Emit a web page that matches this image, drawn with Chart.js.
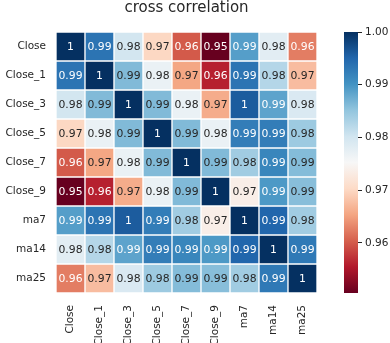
<!DOCTYPE html>
<html><head><meta charset="utf-8">
<script src="https://cdn.jsdelivr.net/npm/chart.js@4"></script>
<style>
html,body{margin:0;padding:0;background:#fff;}
#wrap{position:relative;width:390px;height:343px;overflow:hidden;background:#fff;}
#main{position:absolute;left:0;top:0;}
#cbar{position:absolute;left:330px;top:0;}
</style></head><body>
<div id="wrap"><canvas id="main" width="390" height="343"></canvas><canvas id="cbar" width="60" height="343"></canvas></div>
<script>
// ---- data ----
const labels = ['Close','Close_1','Close_3','Close_5','Close_7','Close_9','ma7','ma14','ma25'];
const rowClose  = [1.0000, 0.9935, 0.9800, 0.9700, 0.9600, 0.9505, 0.9890, 0.9780, 0.9625];
const rowClose1 = [0.9935, 1.0000, 0.9862, 0.9770, 0.9655, 0.9560, 0.9935, 0.9825, 0.9675];
const rowClose3 = [0.9800, 0.9862, 1.0000, 0.9862, 0.9770, 0.9660, 0.9960, 0.9885, 0.9790];
const rowClose5 = [0.9700, 0.9770, 0.9862, 1.0000, 0.9862, 0.9770, 0.9925, 0.9925, 0.9843];
const rowClose7 = [0.9600, 0.9655, 0.9770, 0.9862, 1.0000, 0.9862, 0.9840, 0.9915, 0.9860];
const rowClose9 = [0.9505, 0.9560, 0.9660, 0.9770, 0.9862, 1.0000, 0.9737, 0.9895, 0.9858];
const rowMa7    = [0.9890, 0.9935, 0.9960, 0.9925, 0.9840, 0.9737, 1.0000, 0.9950, 0.9840];
const rowMa14   = [0.9780, 0.9825, 0.9885, 0.9925, 0.9915, 0.9895, 0.9950, 1.0000, 0.9930];
const rowMa25   = [0.9625, 0.9675, 0.9790, 0.9843, 0.9860, 0.9858, 0.9840, 0.9930, 1.0000];
const matrix = [rowClose, rowClose1, rowClose3, rowClose5, rowClose7, rowClose9, rowMa7, rowMa14, rowMa25];
const cbarTicks = [0.96, 0.97, 0.98, 0.99, 1.00];
const titleText = 'cross correlation';

// ---- colormap (RdBu) ----
const RdBu = ['#67001f','#b2182b','#d6604d','#f4a582','#fddbc7','#f7f7f7','#d1e5f0','#92c5de','#4393c3','#2166ac','#053061'];
const vmin = Math.min(...matrix.flat());
const vmax = Math.max(...matrix.flat());
function hexToRgb(h){return [parseInt(h.slice(1,3),16),parseInt(h.slice(3,5),16),parseInt(h.slice(5,7),16)];}
const rgbStops = RdBu.map(hexToRgb);
function cmapRgb(v){
  let t = (v - vmin) / (vmax - vmin);
  t = Math.max(0, Math.min(1, t));
  const p = t * 10; const i = Math.min(9, Math.floor(p)); const f = p - i;
  const a = rgbStops[i], b = rgbStops[i+1];
  return [0,1,2].map(k => Math.round(a[k] + (b[k]-a[k])*f));
}
function cmap(v){const c = cmapRgb(v); return `rgb(${c[0]},${c[1]},${c[2]})`;}
function lum(c){
  const l = c.map(x => { x /= 255; return x <= 0.03928 ? x/12.92 : Math.pow((x+0.055)/1.055, 2.4); });
  return 0.2126*l[0] + 0.7152*l[1] + 0.0722*l[2];
}
function fmt(v){ return String(Number(v.toPrecision(2))); }

const TXT = '#262626';
const FONT = "'DejaVu Sans', sans-serif";

const annotate = {
  id: 'annotate',
  afterDatasetsDraw(chart){
    const ctx = chart.ctx;
    ctx.save();
    ctx.font = `10.8px ${FONT}`;
    ctx.textAlign = 'center';
    ctx.textBaseline = 'middle';
    chart.data.datasets.forEach((ds, i) => {
      const meta = chart.getDatasetMeta(i);
      meta.data.forEach((bar, j) => {
        const v = matrix[i][j];
        const p = bar.getProps(['x','y','base'], true);
        ctx.fillStyle = lum(cmapRgb(v)) > 0.408 ? TXT : '#ffffff';
        ctx.fillText(fmt(v), p.x, (p.y + p.base) / 2 + 0.5);
      });
    });
    ctx.restore();
  }
};

new Chart(document.getElementById('main'), {
  type: 'bar',
  data: {
    labels: labels,
    datasets: matrix.map((row, i) => ({
      label: labels[i],
      data: labels.map(() => [i, i + 1]),
      backgroundColor: row.map(cmap),
      borderColor: '#ffffff',
      borderWidth: 1,
      borderSkipped: false,
      barPercentage: 1,
      categoryPercentage: 1
    }))
  },
  options: {
    responsive: false,
    animation: false,
    devicePixelRatio: 1,
    layout: { padding: { left: 0, right: 73, top: 0, bottom: 0 } },
    plugins: {
      legend: { display: false },
      tooltip: { enabled: false },
      title: {
        display: true, text: titleText, fullSize: false, color: TXT,
        font: { family: FONT, size: 15, weight: 'normal', lineHeight: 1.1 },
        padding: { top: 0, bottom: 15.5 }
      }
    },
    scales: {
      x: {
        type: 'category', stacked: true,
        grid: { display: false, drawTicks: false }, border: { display: false },
        ticks: { autoSkip: false, maxRotation: 90, minRotation: 90, padding: 12, color: TXT, font: { family: FONT, size: 10.5 } },
        afterFit(axis){ axis.height = 50; }
      },
      y: {
        type: 'linear', stacked: false, min: 0, max: labels.length, reverse: true,
        grid: { display: false, drawTicks: false }, border: { display: false },
        afterBuildTicks(axis){ axis.ticks = labels.map((_, i) => ({ value: i + 0.5 })); },
        ticks: { autoSkip: false, padding: 10, color: TXT, font: { family: FONT, size: 10.5 },
          callback(value, index){ return labels[index]; } },
        afterFit(axis){ axis.width = 56; }
      }
    }
  },
  plugins: [annotate]
});

// ---- colorbar ----
new Chart(document.getElementById('cbar'), {
  type: 'bar',
  data: {
    labels: [''],
    datasets: [{
      data: [[vmin, vmax]],
      backgroundColor(context){
        const chart = context.chart; const area = chart.chartArea;
        if (!area) return RdBu[5];
        const g = chart.ctx.createLinearGradient(0, area.bottom, 0, area.top);
        RdBu.forEach((c, i) => g.addColorStop(i / 10, c));
        return g;
      },
      borderWidth: 0,
      barPercentage: 1,
      categoryPercentage: 1
    }]
  },
  options: {
    responsive: false,
    animation: false,
    devicePixelRatio: 1,
    layout: { padding: { left: 14, right: 0, top: 32, bottom: 50 } },
    plugins: { legend: { display: false }, tooltip: { enabled: false }, title: { display: false } },
    scales: {
      x: { display: false },
      y: {
        type: 'linear', position: 'right', min: vmin, max: vmax,
        grid: { drawOnChartArea: false, drawTicks: true, tickLength: 4, tickColor: TXT, tickWidth: 1 },
        border: { display: false },
        afterBuildTicks(axis){ axis.ticks = cbarTicks.map(v => ({ value: v })); },
        ticks: { autoSkip: false, padding: 3, color: TXT, font: { family: FONT, size: 10.5 },
          callback(value){ return Number(value).toFixed(2); } },
        afterFit(axis){ axis.width = 32; }
      }
    }
  }
});
</script>
</body></html>
